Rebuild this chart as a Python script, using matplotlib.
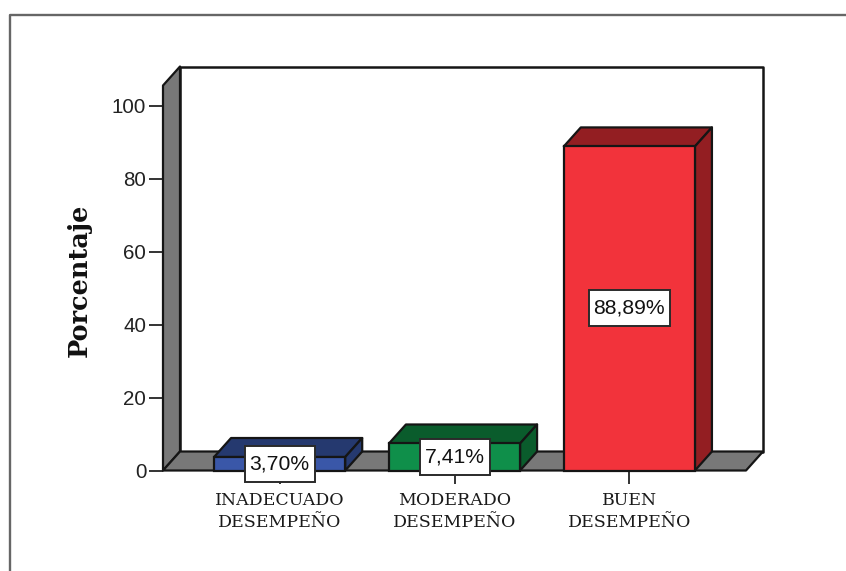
import matplotlib
matplotlib.use("Agg")
import matplotlib.pyplot as plt
from matplotlib.patches import Polygon, Rectangle
from matplotlib.lines import Line2D

categories = ["INADECUADO\nDESEMPEÑO", "MODERADO\nDESEMPEÑO", "BUEN\nDESEMPEÑO"]
percentages = [3.70, 7.41, 88.89]
value_labels = ["3,70%", "7,41%", "88,89%"]
front_colors = ["#3A57A8", "#0F8F4A", "#F2333B"]
shade_colors = ["#25396F", "#0A5C2C", "#931E22"]
y_ticks = [0, 20, 40, 60, 80, 100]

W, H = 846, 571
AX_L, AX_R, AX_T, AX_B = 163, 746, 85.5, 470.5
DEPTH_X, DEPTH_Y = 17, 19
WALL = "#787878"
EDGE = "#151515"

fig = plt.figure(figsize=(W / 100, H / 100), dpi=100, facecolor="white")

# Thin frame around the chart area
fig.add_artist(Line2D([9.5 / W, 9.5 / W, 1], [0, 1 - 15 / H, 1 - 15 / H],
                      color="#666666", lw=1.7, transform=fig.transFigure))

ax = fig.add_axes([AX_L / W, 1 - AX_B / H, (AX_R - AX_L) / W, (AX_B - AX_T) / H])
ax.set_xlim(-0.667, 2.667)
ax.set_ylim(0, 105.6)
ax.patch.set_visible(False)
for side in ax.spines.values():
    side.set_visible(False)

# Depth offsets converted from pixels to data units
px_x = (ax.get_xlim()[1] - ax.get_xlim()[0]) / (AX_R - AX_L)
px_y = (ax.get_ylim()[1] - ax.get_ylim()[0]) / (AX_B - AX_T)
dx, dy = DEPTH_X * px_x, DEPTH_Y * px_y
x0, x1 = ax.get_xlim()
y0, y1 = ax.get_ylim()


def face(points, color, z, lw=1.6):
    ax.add_patch(Polygon(points, closed=True, facecolor=color, edgecolor=EDGE,
                         lw=lw, joinstyle="round", clip_on=False, zorder=z))


# Back wall, side wall and floor of the 3D box
face([(x0 + dx, y0 + dy), (x1 + dx, y0 + dy), (x1 + dx, y1 + dy), (x0 + dx, y1 + dy)], "white", 1, 1.8)
face([(x0, y0), (x0 + dx, y0 + dy), (x0 + dx, y1 + dy), (x0, y1)], WALL, 2)
face([(x0, y0), (x1, y0), (x1 + dx, y0 + dy), (x0 + dx, y0 + dy)], WALL, 2)

# Extruded bars with their value boxes
bar_w = 0.75
renderer = fig.canvas.get_renderer()
for i, (val, front, shade, text) in enumerate(zip(percentages, front_colors, shade_colors, value_labels)):
    l, r = i - bar_w / 2, i + bar_w / 2
    face([(l, val), (r, val), (r + dx, val + dy), (l + dx, val + dy)], shade, 3 + i)
    face([(r, 0), (r + dx, dy), (r + dx, val + dy), (r, val)], shade, 3 + i)
    ax.add_patch(Rectangle((l, 0), bar_w, val, facecolor=front, edgecolor=EDGE,
                           lw=1.6, clip_on=False, zorder=3 + i))
    label = ax.text(i, val / 2, text, ha="center", va="center", fontsize=15.2,
                    family="Liberation Sans", color="#111111", zorder=11, clip_on=False)
    # White box sized from the rendered text, taller than a plain text padding
    box_w = (label.get_window_extent(renderer).width + 10) * px_x
    box_h = 36 * px_y
    ax.add_patch(Rectangle((i - box_w / 2, val / 2 - box_h / 2), box_w, box_h, facecolor="white",
                           edgecolor="#2a2a2a", lw=1.4, clip_on=False, zorder=10))

ax.set_yticks(y_ticks)
ax.set_yticklabels([str(t) for t in y_ticks], fontsize=14.8, family="Liberation Sans", color="#222222")
ax.tick_params(axis="y", length=10, width=1.4, color="#333333", pad=2)

ax.set_xticks(range(len(categories)))
ax.set_xticklabels(categories, fontsize=12.5, family="DejaVu Serif", color="#1a1a1a", linespacing=1.42)
ax.tick_params(axis="x", length=9.5, width=1.4, color="#333333", pad=6)

fig.text(79 / W, 1 - 280 / H, "Porcentaje", rotation=90, ha="center", va="center",
         fontsize=18.4, fontweight="bold", family="DejaVu Serif", color="#111111")

fig.savefig("out.png", dpi=100, facecolor="white")
